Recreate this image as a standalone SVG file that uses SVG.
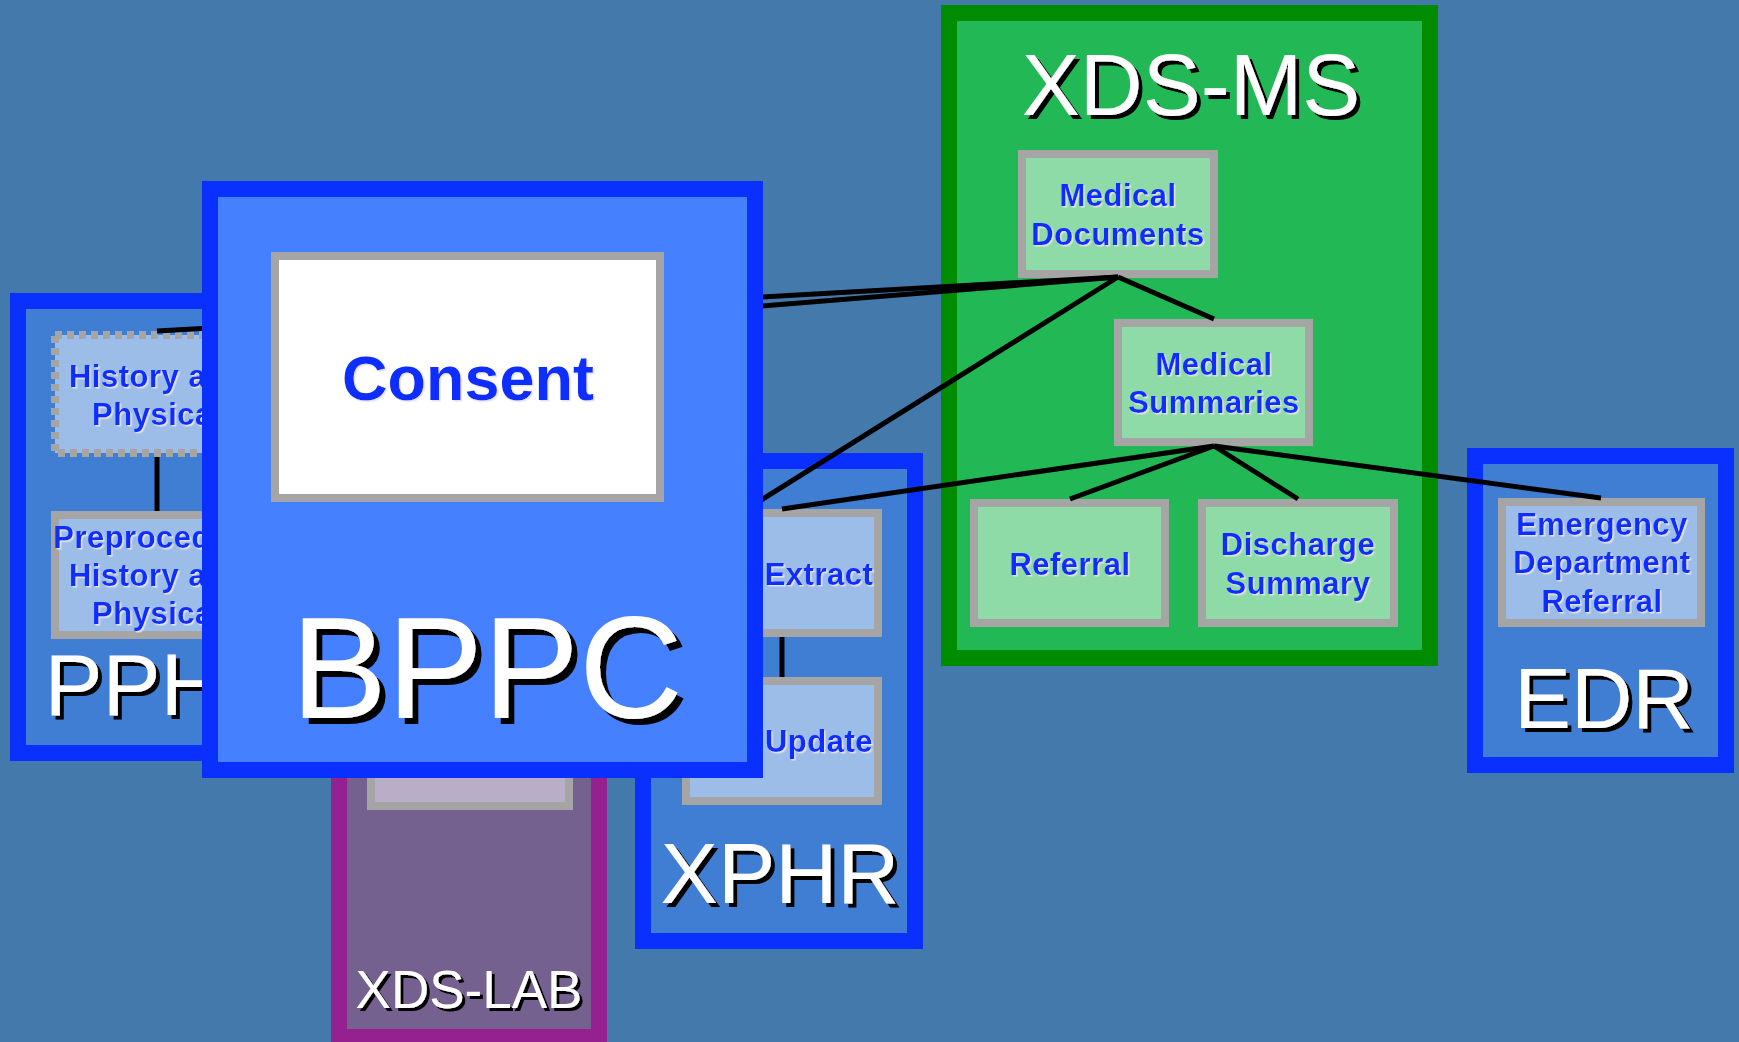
<svg xmlns="http://www.w3.org/2000/svg" width="1739" height="1042" viewBox="0 0 1739 1042">
<defs>
<filter id="shL" x="-10%" y="-10%" width="130%" height="130%"><feDropShadow dx="6" dy="6" stdDeviation="0" flood-color="#000"/></filter>
<filter id="shM" x="-10%" y="-10%" width="130%" height="130%"><feDropShadow dx="4" dy="4" stdDeviation="0" flood-color="#000"/></filter>
<filter id="shS" x="-10%" y="-10%" width="130%" height="130%"><feDropShadow dx="3" dy="3" stdDeviation="0" flood-color="#000"/></filter>
<filter id="shB" x="-10%" y="-10%" width="130%" height="130%"><feDropShadow dx="1.5" dy="1.5" stdDeviation="0" flood-color="#e4e4e4"/></filter>
</defs>
<style>
.frame{stroke:#0a30ff;stroke-width:16;fill:#407ed4}
.box{stroke:#a5a5a5;stroke-width:8;fill:#9dbde9}
.gbox{stroke:#a5a5a5;stroke-width:8;fill:#8fdba8}
.lbl{font-family:"Liberation Sans",Arial,sans-serif;font-weight:bold;font-size:31px;letter-spacing:0.5px;fill:#0d2fff;text-anchor:middle;filter:url(#shB)}
.big{font-family:"Liberation Sans",Arial,sans-serif;fill:#fff;text-anchor:middle}
.conn line{stroke:#000;stroke-width:5}
</style>
<rect width="1739" height="1042" fill="#4479ab"/>

<g id="PPH">
<rect class="frame" x="18" y="301" width="278" height="452"/>
<g id="history-physical">
<rect class="box" x="55" y="335" width="204" height="118" stroke-dasharray="7 5"/>
<text class="lbl"><tspan x="157" y="387">History and</tspan><tspan x="157" y="425">Physical</tspan></text>
</g>
<g id="preprocedure">
<rect class="box" x="55" y="515" width="204" height="120"/>
<text class="lbl"><tspan x="157" y="548">Preprocedure</tspan><tspan x="157" y="586">History and</tspan><tspan x="157" y="624">Physical</tspan></text>
</g>
<text class="big" x="134" y="715" font-size="87" filter="url(#shM)">PPH</text>
</g>

<g id="XDS-LAB">
<rect x="339" y="620" width="260" height="417" fill="#75618f" stroke="#952090" stroke-width="16"/>
<rect x="371" y="686" width="198" height="120" fill="#b8aec8" stroke="#a5a5a5" stroke-width="8"/>
<text class="big" x="469" y="1008" font-size="53" filter="url(#shS)">XDS-LAB</text>
</g>

<g id="XPHR">
<rect class="frame" x="643" y="461" width="272" height="480"/>
<g id="extract">
<rect class="box" x="686" y="513" width="192" height="120"/>
<text class="lbl" x="819" y="585">Extract</text>
</g>
<g id="update">
<rect class="box" x="686" y="681" width="192" height="120"/>
<text class="lbl" x="819" y="752">Update</text>
</g>
<text class="big" x="780" y="903" font-size="86" filter="url(#shM)">XPHR</text>
</g>

<g id="XDS-MS">
<rect x="949" y="13" width="481" height="645" fill="#22b855" stroke="#008c00" stroke-width="16"/>
<text class="big" x="1191" y="115" font-size="87" filter="url(#shM)">XDS-MS</text>
<g id="medical-documents">
<rect class="gbox" x="1022" y="154" width="192" height="120"/>
<text class="lbl"><tspan x="1118" y="206">Medical</tspan><tspan x="1118" y="245">Documents</tspan></text>
</g>
<g id="medical-summaries">
<rect class="gbox" x="1118" y="323" width="191" height="119"/>
<text class="lbl"><tspan x="1214" y="375">Medical</tspan><tspan x="1214" y="413">Summaries</tspan></text>
</g>
<g id="referral">
<rect class="gbox" x="974" y="503" width="191" height="120"/>
<text class="lbl" x="1070" y="575">Referral</text>
</g>
<g id="discharge-summary">
<rect class="gbox" x="1202" y="503" width="192" height="120"/>
<text class="lbl"><tspan x="1298" y="555">Discharge</tspan><tspan x="1298" y="594">Summary</tspan></text>
</g>
</g>

<g id="EDR">
<rect class="frame" x="1475" y="456" width="251" height="309"/>
<g id="ed-referral">
<rect class="box" x="1502" y="502" width="199" height="121"/>
<text class="lbl"><tspan x="1602" y="535">Emergency</tspan><tspan x="1602" y="573">Department</tspan><tspan x="1602" y="612">Referral</tspan></text>
</g>
<text class="big" x="1604" y="728" font-size="85" filter="url(#shM)">EDR</text>
</g>

<g id="connectors" class="conn">
<line x1="1118" y1="277" x2="157" y2="331"/>
<line x1="1118" y1="277" x2="664" y2="314"/>
<line x1="1118" y1="277" x2="470" y2="682"/>
<line x1="1118" y1="277" x2="1214" y2="319"/>
<line x1="1214" y1="446" x2="1070" y2="499"/>
<line x1="1214" y1="446" x2="1298" y2="499"/>
<line x1="1214" y1="446" x2="1601" y2="498"/>
<line x1="1214" y1="446" x2="782" y2="509"/>
<line x1="782" y1="637" x2="782" y2="677"/>
<line x1="157" y1="457" x2="157" y2="511"/>
</g>

<g id="BPPC">
<rect x="210" y="189" width="545" height="581" fill="#4480ff" stroke="#0a30ff" stroke-width="16"/>
<g id="consent">
<rect x="275" y="256" width="385" height="242" fill="#fff" stroke="#a5a5a5" stroke-width="8"/>
<text x="468" y="400" font-family="'Liberation Sans',Arial,sans-serif" font-weight="bold" font-size="63" fill="#0d2fff" text-anchor="middle" filter="url(#shB)">Consent</text>
</g>
<text class="big" x="487" y="718" font-size="144" filter="url(#shL)">BPPC</text>
</g>
</svg>
